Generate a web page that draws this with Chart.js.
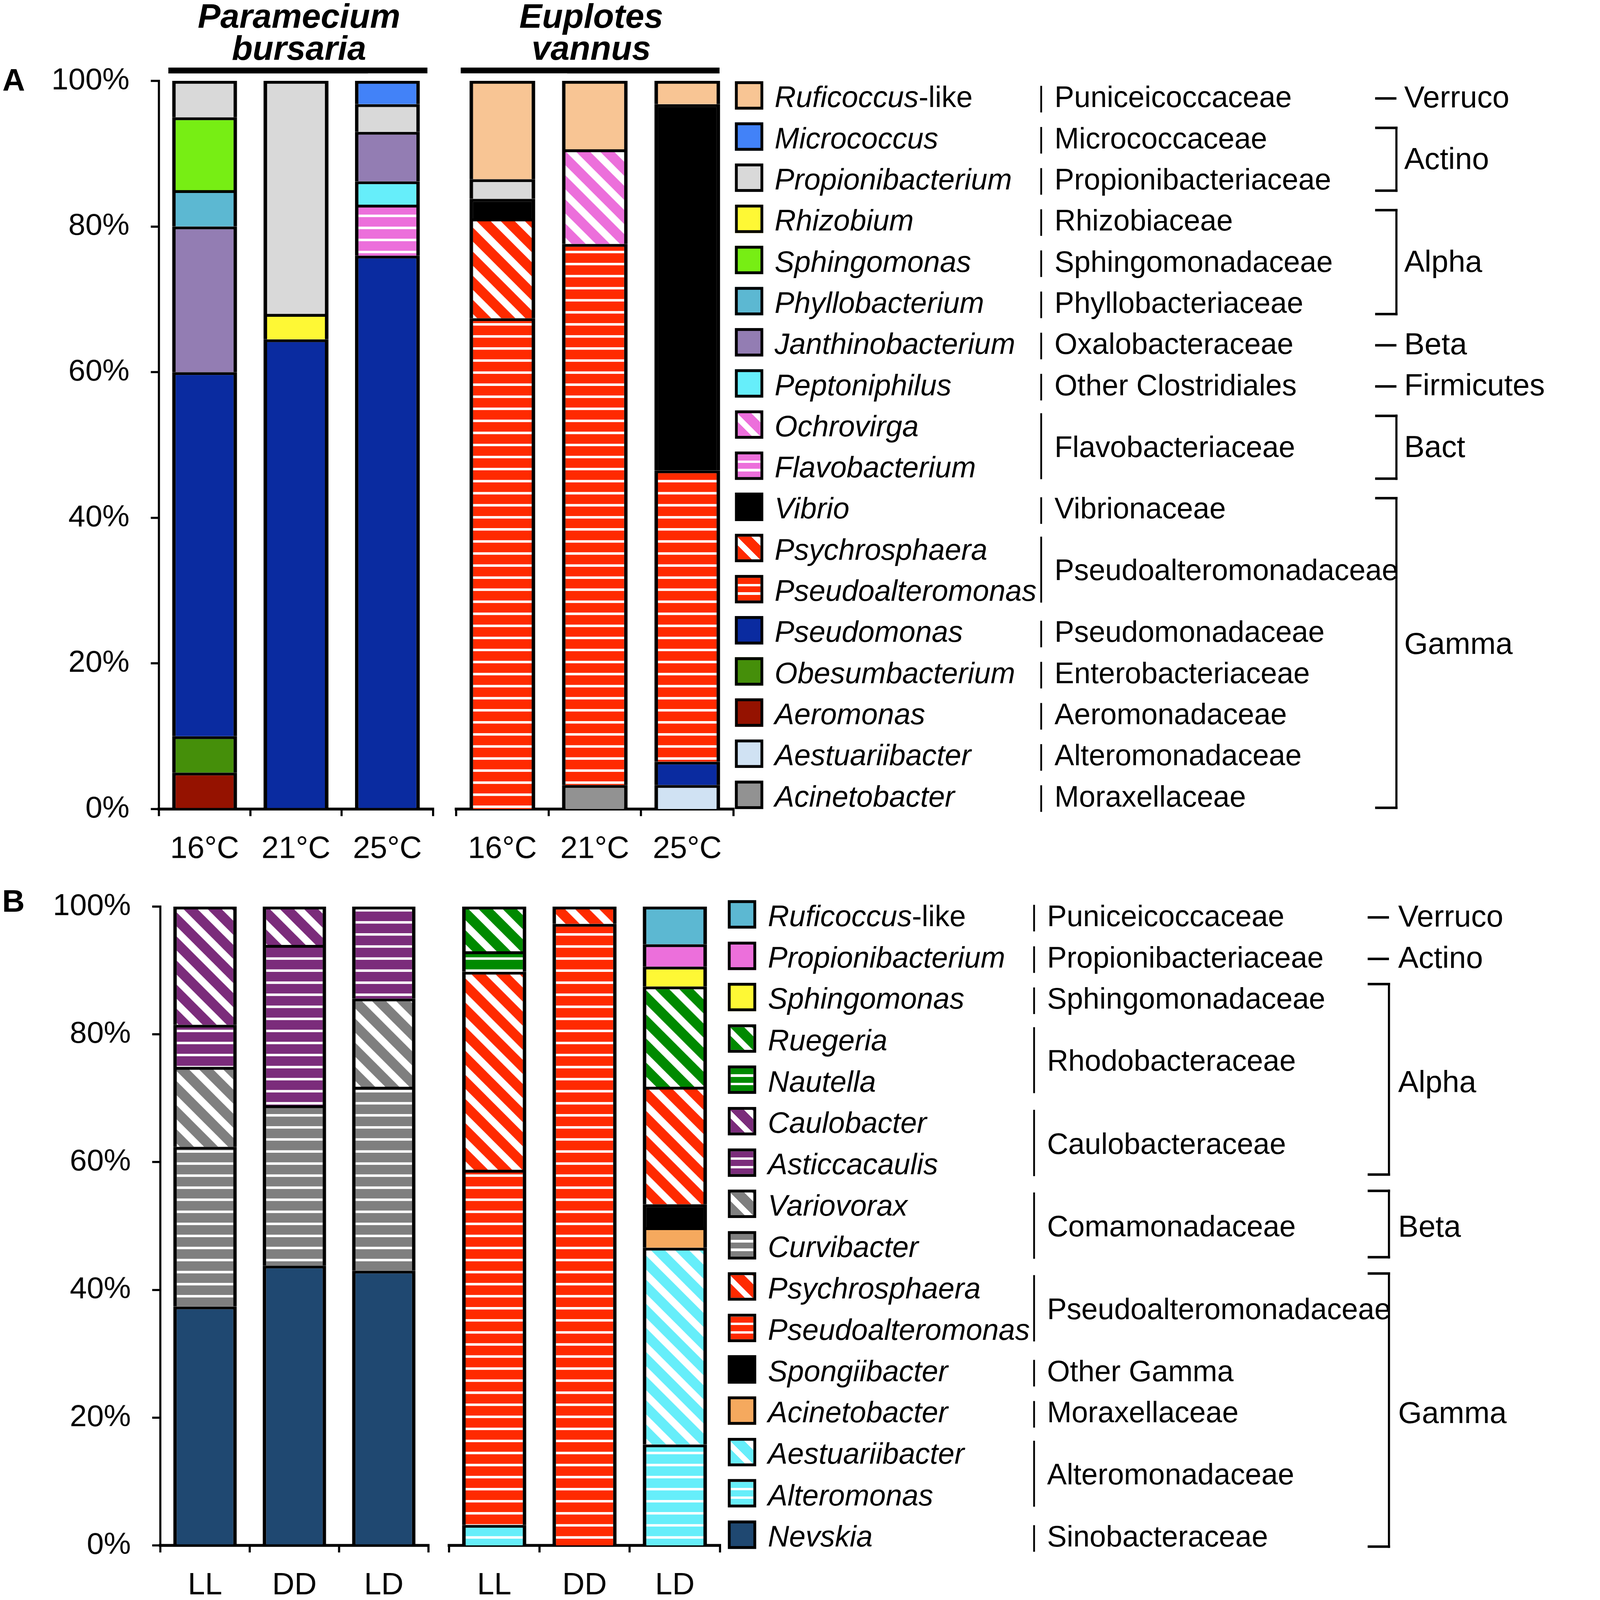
<!DOCTYPE html>
<html>
<head>
<meta charset="utf-8">
<script src="https://cdn.jsdelivr.net/npm/chart.js@4.4.1/dist/chart.umd.min.js"></script>
<style>
	html, body { margin: 0; padding: 0; background: #fff; overflow: hidden; }
	#page { position: absolute; left: 0; top: 0; width: 4382px; height: 4511px; overflow: hidden; background: #fff;
		font-family: "Liberation Sans", Arial, sans-serif; color: #000; transform-origin: 0 0; }
	#page canvas { position: absolute; }
	.t { position: absolute; white-space: nowrap; line-height: 1.2; }
	.b { position: absolute; background: #000; }
	.sw { position: absolute; box-sizing: border-box; border: 8px solid #000; }
</style>
</head>
<body>
<div id="page">
	<canvas id="chartALeft"></canvas>
	<canvas id="chartARight"></canvas>
	<canvas id="chartBLeft"></canvas>
	<canvas id="chartBRight"></canvas>
</div>
<script>
// ---- data ----
const tempLabels = ['16°C', '21°C', '25°C'];
const lightLabels = ['LL', 'DD', 'LD'];
const yTicks = [0, 20, 40, 60, 80, 100];

// panel A genera (legend order, top -> bottom)
const generaA = ['Ruficoccus-like', 'Micrococcus', 'Propionibacterium', 'Rhizobium', 'Sphingomonas',
	'Phyllobacterium', 'Janthinobacterium', 'Peptoniphilus', 'Ochrovirga', 'Flavobacterium', 'Vibrio',
	'Psychrosphaera', 'Pseudoalteromonas', 'Pseudomonas', 'Obesumbacterium', 'Aeromonas',
	'Aestuariibacter', 'Acinetobacter'];
const familiesA = [['Puniceicoccaceae', 0, 0], ['Micrococcaceae', 1, 1], ['Propionibacteriaceae', 2, 2],
	['Rhizobiaceae', 3, 3], ['Sphingomonadaceae', 4, 4], ['Phyllobacteriaceae', 5, 5],
	['Oxalobacteraceae', 6, 6], ['Other Clostridiales', 7, 7], ['Flavobacteriaceae', 8, 9],
	['Vibrionaceae', 10, 10], ['Pseudoalteromonadaceae', 11, 12], ['Pseudomonadaceae', 13, 13],
	['Enterobacteriaceae', 14, 14], ['Aeromonadaceae', 15, 15], ['Alteromonadaceae', 16, 16],
	['Moraxellaceae', 17, 17]];
const classesA = [['Verruco', 0, 0], ['Actino', 1, 2], ['Alpha', 3, 5], ['Beta', 6, 6],
	['Firmicutes', 7, 7], ['Bact', 8, 9], ['Gamma', 10, 17]];

// relative abundance (%), same order as generaA
const paramecium16 = [0, 0, 5, 0, 10, 5, 20, 0, 0, 0, 0, 0, 0, 50, 5, 5, 0, 0];
const paramecium21 = [0, 0, 32, 3.5, 0, 0, 0, 0, 0, 0, 0, 0, 0, 64.5, 0, 0, 0, 0];
const paramecium25 = [0, 3.2, 3.8, 0, 0, 0, 6.8, 3.2, 0, 7, 0, 0, 0, 76, 0, 0, 0, 0];
const euplotes16 = [13.5, 0, 2.7, 0, 0, 0, 0, 0, 0, 0, 2.7, 13.7, 67.4, 0, 0, 0, 0, 0];
const euplotes21 = [9.4, 0, 0, 0, 0, 0, 0, 0, 13, 0, 0, 0, 74.3, 0, 0, 0, 0, 3.3];
const euplotes25 = [3.2, 0, 0, 0, 0, 0, 0, 0, 0, 0, 50.3, 0, 40, 3.2, 0, 0, 3.3, 0];

// panel B genera (legend order, top -> bottom)
const generaB = ['Ruficoccus-like', 'Propionibacterium', 'Sphingomonas', 'Ruegeria', 'Nautella',
	'Caulobacter', 'Asticcacaulis', 'Variovorax', 'Curvibacter', 'Psychrosphaera', 'Pseudoalteromonas',
	'Spongiibacter', 'Acinetobacter', 'Aestuariibacter', 'Alteromonas', 'Nevskia'];
const familiesB = [['Puniceicoccaceae', 0, 0], ['Propionibacteriaceae', 1, 1], ['Sphingomonadaceae', 2, 2],
	['Rhodobacteraceae', 3, 4], ['Caulobacteraceae', 5, 6], ['Comamonadaceae', 7, 8],
	['Pseudoalteromonadaceae', 9, 10], ['Other Gamma', 11, 11], ['Moraxellaceae', 12, 12],
	['Alteromonadaceae', 13, 14], ['Sinobacteraceae', 15, 15]];
const classesB = [['Verruco', 0, 0], ['Actino', 1, 1], ['Alpha', 2, 6], ['Beta', 7, 8], ['Gamma', 9, 15]];

const parameciumLL = [0, 0, 0, 0, 0, 18.5, 6.6, 12.5, 25, 0, 0, 0, 0, 0, 0, 37.4];
const parameciumDD = [0, 0, 0, 0, 0, 6, 25.1, 0, 25.1, 0, 0, 0, 0, 0, 0, 43.8];
const parameciumLD = [0, 0, 0, 0, 0, 0, 14.4, 13.8, 28.8, 0, 0, 0, 0, 0, 0, 43];
const euplotesLL = [0, 0, 0, 7, 3.2, 0, 0, 0, 0, 31, 55.6, 0, 0, 0, 3.2, 0];
const euplotesDD = [0, 0, 0, 0, 0, 0, 0, 0, 0, 2.7, 97.3, 0, 0, 0, 0, 0];
const euplotesLD = [5.9, 3.5, 3.1, 15.7, 0, 0, 0, 0, 0, 18.4, 0, 3.6, 3.2, 30.8, 15.8, 0];

// ---- styles ----
const colorsA = ['#F8C594', '#4282F8', '#D9D9D9', '#FEF835', '#77EE14', '#5CB8D2', '#937DB3', '#66EEFA',
	'#EC6FDB', '#EC6FDB', '#000000', '#FF2A00', '#FF2A00', '#0A2BA0', '#458F0A', '#951200', '#D0E2F3', '#929292'];
const fillsA = ['solid', 'solid', 'solid', 'solid', 'solid', 'solid', 'solid', 'solid', 'diag', 'horiz',
	'solid', 'diag', 'horiz', 'solid', 'solid', 'solid', 'solid', 'solid'];
const colorsB = ['#5CB8D2', '#EC6FDB', '#FEF835', '#008A00', '#008A00', '#7B2C7B', '#7B2C7B', '#7F7F7F',
	'#7F7F7F', '#FF2A00', '#FF2A00', '#000000', '#F5A95E', '#66EEFA', '#66EEFA', '#1F4871'];
const fillsB = ['solid', 'solid', 'solid', 'diag', 'horiz', 'diag', 'horiz', 'diag', 'horiz', 'diag', 'horiz',
	'solid', 'solid', 'diag', 'horiz', 'solid'];

const FONT = '"Liberation Sans", Arial, sans-serif';
const page = document.getElementById('page');

// 창 크기에 맞춰 전체 페이지 배율 조정
const fitScale = Math.min(window.innerWidth / 4382, window.innerHeight / 4511);
page.style.transform = 'scale(' + fitScale + ')';

/**
 * 패턴(줄무늬) 생성
 */
function makeFill(ctx, color, kind) {
	if (kind === 'solid') return color;
	const c = document.createElement('canvas');
	const g = c.getContext('2d');
	if (kind === 'horiz') {
		c.width = 8; c.height = 34;
		g.fillStyle = color; g.fillRect(0, 0, 8, 34);
		g.fillStyle = '#fff'; g.fillRect(0, 27, 8, 7);
	} else {
		const p = 68;
		c.width = p; c.height = p;
		g.fillStyle = color; g.fillRect(0, 0, p, p);
		g.strokeStyle = '#fff'; g.lineWidth = 20;
		[-p, 0, p].forEach(function(k) {
			g.beginPath(); g.moveTo(k - p, -p); g.lineTo(k + 2 * p, 2 * p); g.stroke();
		});
	}
	return ctx.createPattern(c, 'repeat');
}

function swatchCss(color, kind) {
	if (kind === 'diag') return 'repeating-linear-gradient(45deg, ' + color + ' 0 28px, #fff 28px 44px)';
	if (kind === 'horiz') return 'repeating-linear-gradient(to bottom, ' + color + ' 0 17px, #fff 17px 24px)';
	return color;
}

/**
 * 누적 막대 차트 (한 그룹)
 */
function buildChart(id, box, area, labels, bars, colors, fills, showY) {
	const cv = document.getElementById(id);
	cv.width = box.w; cv.height = box.h;
	cv.style.left = box.x + 'px'; cv.style.top = box.y + 'px';
	cv.style.width = box.w + 'px'; cv.style.height = box.h + 'px';
	const ctx = cv.getContext('2d');

	const datasets = [];
	for (let i = colors.length - 1; i >= 0; i--) {
		datasets.push({
			data: bars.map(function(b) { return b[i] > 0 ? b[i] : null; }),
			backgroundColor: makeFill(ctx, colors[i], fills[i]),
			borderColor: '#000',
			borderWidth: { top: 8, left: 10, right: 10, bottom: 0 },
			borderSkipped: 'start',
			categoryPercentage: 1,
			barPercentage: 0.71
		});
	}
	const yW = area.left - box.x;
	const xH = box.y + box.h - area.bottom;

	new Chart(ctx, {
		type: 'bar',
		data: { labels: labels, datasets: datasets },
		options: {
			responsive: false,
			animation: false,
			devicePixelRatio: 1,
			layout: {
				padding: { top: area.top - box.y, right: box.x + box.w - area.right, left: showY ? 0 : yW, bottom: 0 }
			},
			plugins: { legend: { display: false }, tooltip: { enabled: false } },
			scales: {
				x: {
					stacked: true,
					offset: true,
					grid: { offset: true, drawOnChartArea: false, drawTicks: true, tickLength: 20, lineWidth: 6, color: '#000' },
					border: { display: true, color: '#000', width: 8 },
					ticks: { color: '#000', font: { family: FONT, size: 87 }, padding: 42, maxRotation: 0, autoSkip: false },
					afterFit: function(s) { s.height = xH; s.paddingLeft = 0; s.paddingRight = 0; }
				},
				y: {
					stacked: true,
					display: showY,
					min: 0,
					max: 100,
					grid: { drawOnChartArea: false, drawTicks: true, tickLength: 23, lineWidth: 6, color: '#000' },
					border: { display: true, color: '#000', width: 6 },
					ticks: {
						color: '#000', font: { family: FONT, size: 86 }, padding: 60,
						callback: function(v) { return v + '%'; }
					},
					afterBuildTicks: function(s) { s.ticks = yTicks.map(function(v) { return { value: v }; }); },
					afterFit: function(s) { s.width = showY ? yW : 0; s.paddingTop = 0; s.paddingBottom = 0; }
				}
			}
		}
	});
}

function addText(html, x, yc, size, opt) {
	opt = opt || {};
	const d = document.createElement('div');
	d.className = 't';
	d.innerHTML = html;
	d.style.fontSize = size + 'px';
	d.style.left = x + 'px';
	d.style.top = (yc - 0.6 * size) + 'px';
	if (opt.bold) d.style.fontWeight = 'bold';
	if (opt.italic) d.style.fontStyle = 'italic';
	if (opt.align === 'center') d.style.transform = 'translateX(-50%)';
	page.appendChild(d);
}

function addBar(x, y, w, h) {
	const d = document.createElement('div');
	d.className = 'b';
	d.style.left = x + 'px'; d.style.top = y + 'px';
	d.style.width = w + 'px'; d.style.height = h + 'px';
	page.appendChild(d);
}

function genusHtml(name) {
	if (name.endsWith('-like')) return '<i>' + name.slice(0, -5) + '</i>-like';
	return '<i>' + name + '</i>';
}

/**
 * 범례: 속 | 과 | 강(괄호)
 */
function buildLegend(L, genera, colors, fills, families, classes) {
	const rowY = function(i) { return L.row0 + L.step * i; };
	genera.forEach(function(name, i) {
		const sw = document.createElement('div');
		sw.className = 'sw';
		sw.style.left = L.swX + 'px';
		sw.style.top = (rowY(i) - 40) + 'px';
		sw.style.width = '80px'; sw.style.height = '80px';
		sw.style.background = swatchCss(colors[i], fills[i]);
		page.appendChild(sw);
		addText(genusHtml(name), L.genusX, rowY(i) + 5, 83);
	});
	families.forEach(function(f) {
		const a = rowY(f[1]), b = rowY(f[2]);
		if (f[1] === f[2]) addBar(L.famBarX, a - 27, 5, 75);
		else addBar(L.famBarX, a - 32, 5, b - a + 70);
		addText(f[0], L.famX, (a + b) / 2 + 5, 83);
	});
	classes.forEach(function(c) {
		const a = rowY(c[1]), b = rowY(c[2]);
		if (c[1] === c[2]) {
			addBar(L.brX - 60, a + 5, 60, 7);
		} else {
			const top = a + L.brTop, bot = b + L.brBot;
			addBar(L.brX - 3, top, 6, bot - top);
			addBar(L.brX - 60, top, 63, 7);
			addBar(L.brX - 60, bot - 7, 63, 7);
		}
		const yc = (c[2] - c[1] > 6) ? (a + b) / 2 - 20 : (a + b) / 2 + 5;
		addText(c[0], L.clsX, yc, 86);
	});
}

// ---- panel A ----
buildChart('chartALeft', { x: 0, y: 0, w: 1240, h: 2480 }, { left: 448, right: 1221, top: 228, bottom: 2281 },
	tempLabels, [paramecium16, paramecium21, paramecium25], colorsA, fillsA, true);
buildChart('chartARight', { x: 1250, y: 0, w: 850, h: 2480 }, { left: 1286, right: 2068, top: 228, bottom: 2281 },
	tempLabels, [euplotes16, euplotes21, euplotes25], colorsA, fillsA, false);

// ---- panel B ----
buildChart('chartBLeft', { x: 0, y: 2400, w: 1240, h: 2111 }, { left: 452, right: 1208, top: 2556, bottom: 4357 },
	lightLabels, [parameciumLL, parameciumDD, parameciumLD], colorsB, fillsB, true);
buildChart('chartBRight', { x: 1240, y: 2400, w: 820, h: 2111 }, { left: 1266, right: 2030, top: 2556, bottom: 4357 },
	lightLabels, [euplotesLL, euplotesDD, euplotesLD], colorsB, fillsB, false);

// titles and panel letters
addText('Paramecium', 843, 45, 96, { bold: true, italic: true, align: 'center' });
addText('bursaria', 843, 135, 96, { bold: true, italic: true, align: 'center' });
addText('Euplotes', 1667, 45, 96, { bold: true, italic: true, align: 'center' });
addText('vannus', 1667, 135, 96, { bold: true, italic: true, align: 'center' });
addBar(475, 191, 730, 16);
addBar(1299, 191, 729, 16);
addText('A', 7, 225, 88, { bold: true });
addText('B', 6, 2540, 88, { bold: true });

buildLegend({ swX: 2072, row0: 269, step: 116, genusX: 2184, famBarX: 2933, famX: 2973,
	brX: 3937, clsX: 3959, brTop: -28, brBot: 40 }, generaA, colorsA, fillsA, familiesA, classesA);
buildLegend({ swX: 2052, row0: 2578, step: 116.6, genusX: 2165, famBarX: 2913, famX: 2952,
	brX: 3916, clsX: 3942, brTop: -40, brBot: 37 }, generaB, colorsB, fillsB, familiesB, classesB);
</script>
</body>
</html>
